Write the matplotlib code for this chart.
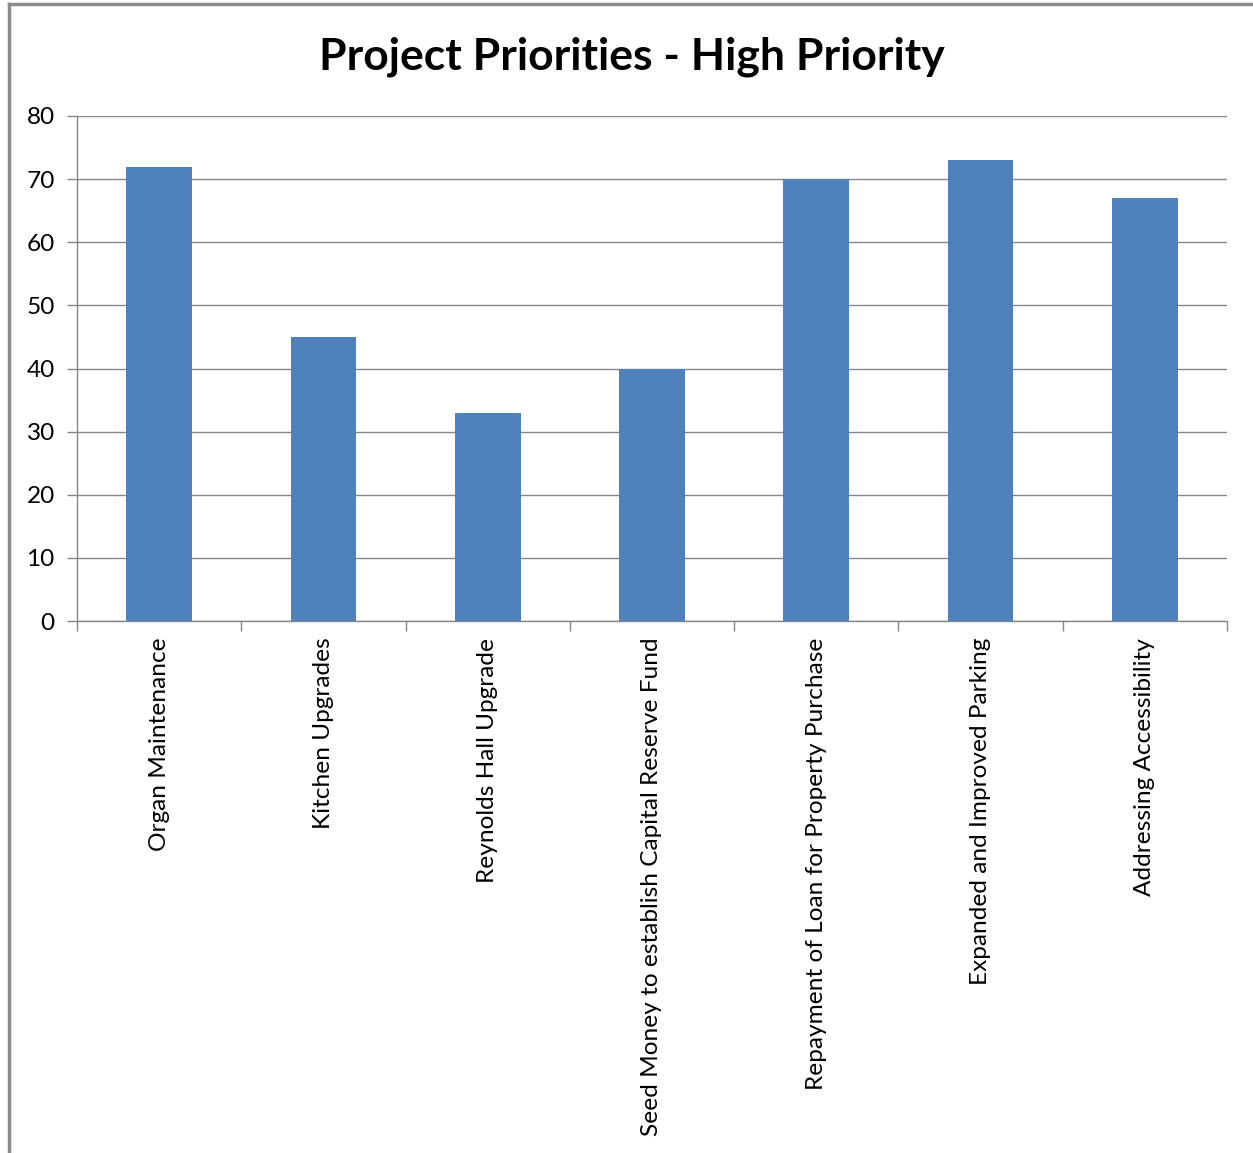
import matplotlib
matplotlib.use("Agg")
import matplotlib.pyplot as plt
from matplotlib.lines import Line2D
import numpy as np

# High-priority vote counts per project
projects = [
    "Organ Maintenance",
    "Kitchen Upgrades",
    "Reynolds Hall Upgrade",
    "Seed Money to establish Capital Reserve Fund",
    "Repayment of Loan for Property Purchase",
    "Expanded and Improved Parking",
    "Addressing Accessibility",
]
votes = [72, 45, 33, 40, 70, 73, 67]
y_ticks = [0, 10, 20, 30, 40, 50, 60, 70, 80]

plt.rcParams["font.family"] = ["Lato", "DejaVu Sans"]

W, H = 1253, 1153
fig = plt.figure(figsize=(W / 100, H / 100), dpi=100)
ax = fig.add_axes([77 / W, 1 - 621 / H, (1227 - 77) / W, (621 - 116) / H])

x = np.arange(len(projects))
ax.bar(x, votes, width=0.4, color="#4F81BD", zorder=3)

ax.set_xlim(-0.5, len(projects) - 0.5)
ax.set_ylim(0, 80)
ax.set_yticks(y_ticks)
ax.yaxis.grid(True, color="#868686", linewidth=1.0, zorder=0)

# category boundaries carry the tick marks, labels sit at the centres
ax.set_xticks(np.arange(len(projects) + 1) - 0.5)
ax.set_xticklabels([])
ax.set_xticks(x, minor=True)
ax.set_xticklabels(projects, minor=True, rotation=90, fontsize=17.6, va="top")
ax.tick_params(axis="x", which="major", length=7, width=1, color="#868686", direction="out")
ax.tick_params(axis="x", which="minor", length=0, pad=12)
ax.tick_params(axis="y", length=7, width=1, color="#868686", direction="out", labelsize=17.6, pad=9)

for side in ("top", "right"):
    ax.spines[side].set_visible(False)
for side in ("left", "bottom"):
    ax.spines[side].set_color("#868686")
    ax.spines[side].set_linewidth(1.0)

fig.text(632 / W, 1 - 57 / H, "Project Priorities - High Priority",
         ha="center", va="center", fontsize=32, fontweight="bold")

# chart area frame
fig.add_artist(Line2D([8.5 / W, 8.5 / W], [0, 1 - 4 / H], transform=fig.transFigure,
                      color="#8a8a8a", linewidth=2.5))
fig.add_artist(Line2D([8.5 / W, 1], [1 - 4 / H, 1 - 4 / H], transform=fig.transFigure,
                      color="#8a8a8a", linewidth=2.5))

fig.savefig("out.png", dpi=100, facecolor="white")
